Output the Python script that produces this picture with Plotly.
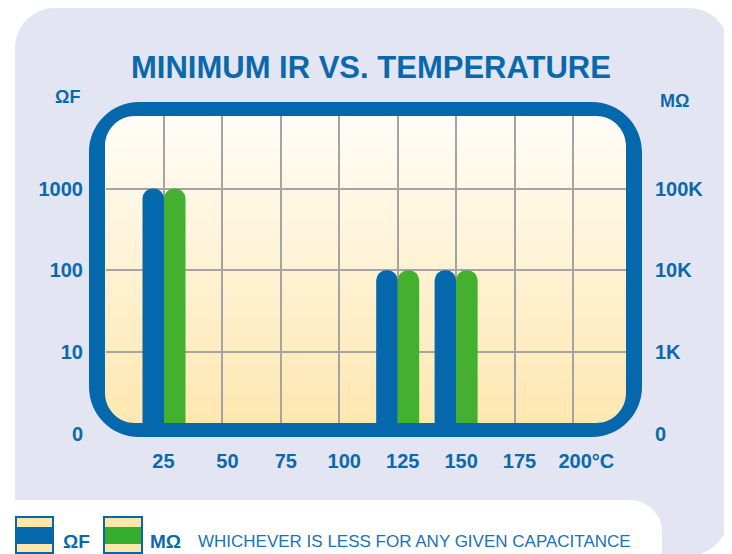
import plotly.graph_objects as go

# ---------------- data ----------------
temps = [25, 125, 150]
ohm_farad = [1000, 100, 100]          # ΩF series (left axis)
megohm = [100000, 10000, 10000]       # MΩ series (right axis)
x_ticks = [25, 50, 75, 100, 125, 150, 175, 200]
x_tick_labels = ["25\u00a0\u00a0", "50", "75", "100", "125", "150", "175", "\u00a0\u00a0\u00a0200°C"]
grid_vals = [10, 100, 1000]
left_tick_vals = [1, 10, 100, 1000]
left_tick_labels = ["0", "10", "100", "1000"]
right_tick_vals = [100, 1000, 10000, 100000]
right_tick_labels = ["0", "1K", "10K", "100K"]

# ---------------- style ----------------
BLUE = "#0568ad"
GREEN = "#43b02f"
LAV = "#e3e5f2"
TXT = "#0a69ad"
GRID = "#a4a4a4"
FONT = "Liberation Sans"

OFF = 8                      # page body margin
W, H = 732 - OFF, 554 - OFF  # figure size
PL, PR, PT, PB = 106, 626, 116, 437   # plot area in page pixels


def X(px):
    return (px - PL) / (PR - PL)


def Y(py):
    return (PB - py) / (PB - PT)


def pt(px, py):
    return f"{X(px):.5f},{Y(py):.5f}"


def rrect(x0, y0, x1, y1, radii, reverse=False):
    tl, tr, br, bl = radii
    c = 0.5523
    if not reverse:
        s = f"M{pt(x0 + tl, y0)} L{pt(x1 - tr, y0)} "
        s += f"C{pt(x1 - tr + c * tr, y0)} {pt(x1, y0 + tr - c * tr)} {pt(x1, y0 + tr)} "
        s += f"L{pt(x1, y1 - br)} "
        s += f"C{pt(x1, y1 - br + c * br)} {pt(x1 - br + c * br, y1)} {pt(x1 - br, y1)} "
        s += f"L{pt(x0 + bl, y1)} "
        s += f"C{pt(x0 + bl - c * bl, y1)} {pt(x0, y1 - bl + c * bl)} {pt(x0, y1 - bl)} "
        s += f"L{pt(x0, y0 + tl)} "
        s += f"C{pt(x0, y0 + tl - c * tl)} {pt(x0 + tl - c * tl, y0)} {pt(x0 + tl, y0)} Z"
    else:
        s = f"M{pt(x0 + tl, y0)} "
        s += f"C{pt(x0 + tl - c * tl, y0)} {pt(x0, y0 + tl - c * tl)} {pt(x0, y0 + tl)} "
        s += f"L{pt(x0, y1 - bl)} "
        s += f"C{pt(x0, y1 - bl + c * bl)} {pt(x0 + bl - c * bl, y1)} {pt(x0 + bl, y1)} "
        s += f"L{pt(x1 - br, y1)} "
        s += f"C{pt(x1 - br + c * br, y1)} {pt(x1, y1 - br + c * br)} {pt(x1, y1 - br)} "
        s += f"L{pt(x1, y0 + tr)} "
        s += f"C{pt(x1, y0 + tr - c * tr)} {pt(x1 - tr + c * tr, y0)} {pt(x1 - tr, y0)} Z"
    return s


shapes = []
# lavender panel
shapes.append(dict(type="path", xref="paper", yref="paper", layer="below",
                   path=rrect(15, 8, 729, 556, (40, 40, 42, 0)),
                   fillcolor=LAV, line=dict(width=0)))
# white cut-out at bottom
shapes.append(dict(type="path", xref="paper", yref="paper", layer="below",
                   path=rrect(-10, 500, 662, 600, (0, 32, 0, 0)),
                   fillcolor="white", line=dict(width=0)))

# gradient inside frame
ix0, iy0, ix1, iy1 = 105, 116, 626, 423
top_c = (255, 253, 247)
bot_c = (254, 231, 176)
n = 64
step = (iy1 - iy0) / n
for i in range(n):
    t = (i + 0.5) / n
    col = tuple(round(top_c[k] + (bot_c[k] - top_c[k]) * t) for k in range(3))
    shapes.append(dict(type="rect", xref="paper", yref="paper", layer="below",
                       x0=X(ix0), x1=X(ix1), y0=Y(iy0 + i * step - 0.3), y1=Y(iy0 + (i + 1) * step + 0.3),
                       fillcolor=f"rgb{col}", line=dict(width=0)))

# blue rounded frame
frame_path = rrect(89, 102, 642, 437, (50, 50, 50, 50)) + " " + \
    rrect(ix0, iy0, ix1, iy1, (30, 30, 30, 30), reverse=True)
shapes.append(dict(type="path", xref="paper", yref="paper", layer="above",
                   path=frame_path, fillcolor=BLUE, fillrule="evenodd", line=dict(width=0)))

# legend icons
for (lx0, lx1, band) in [(15, 54, BLUE), (103, 143, "#35ae2e")]:
    shapes.append(dict(type="rect", xref="paper", yref="paper", layer="above",
                       x0=X(lx0 + 1), x1=X(lx1 - 1), y0=Y(517), y1=Y(553),
                       fillcolor="#fde6ac", line=dict(color=BLUE, width=2)))
    shapes.append(dict(type="rect", xref="paper", yref="paper", layer="above",
                       x0=X(lx0 + 2), x1=X(lx1 - 2), y0=Y(527), y1=Y(544),
                       fillcolor=band, line=dict(width=0)))

fig = go.Figure()
bar_w = 9.2
fig.add_trace(go.Bar(x=temps, y=ohm_farad, name="ΩF", marker_color=BLUE,
                     marker_line_width=0, width=bar_w, offset=-bar_w, yaxis="y"))
fig.add_trace(go.Bar(x=temps, y=megohm, name="MΩ", marker_color=GREEN,
                     marker_line_width=0, width=bar_w, offset=0, yaxis="y2"))

tick_font = dict(family=FONT, size=20, color=TXT, weight="bold")

ylo, yhi = -0.04, 3.887
fig.update_layout(
    width=W, height=H, autosize=False,
    margin=dict(l=PL - OFF, r=W - (PR - OFF), t=PT - OFF, b=H - (PB - OFF), pad=0),
    paper_bgcolor="white", plot_bgcolor="rgba(0,0,0,0)",
    showlegend=False, barmode="overlay", barcornerradius="50%",
    shapes=shapes,
    xaxis=dict(range=[0.18, 222.7], tickvals=x_ticks, ticktext=x_tick_labels,
               showgrid=True, gridcolor=GRID, gridwidth=1.6, zeroline=False,
               showline=False, ticks="", tickfont=tick_font, ticklabelstandoff=10,
               ticklabelshift=5),
    yaxis=dict(type="log", range=[ylo, yhi], tickvals=grid_vals, showticklabels=False,
               showgrid=True, gridcolor=GRID, gridwidth=1.6, zeroline=False,
               showline=False, ticks=""),
    yaxis3=dict(type="log", range=[ylo, yhi], overlaying="y", side="left",
                tickvals=left_tick_vals, ticktext=left_tick_labels,
                showgrid=False, zeroline=False, showline=False, ticks="",
                tickfont=tick_font, ticklabelstandoff=22),
    yaxis2=dict(type="log", range=[ylo + 2, yhi + 2], overlaying="y", side="right",
                tickvals=right_tick_vals, ticktext=right_tick_labels,
                showgrid=False, zeroline=False, showline=False, ticks="",
                tickfont=tick_font, ticklabelstandoff=28),
)
# invisible carrier so the left label axis is drawn
fig.add_trace(go.Scatter(x=[None], y=[None], yaxis="y3", showlegend=False, hoverinfo="skip"))

ann = []
ann.append(dict(text="MINIMUM IR VS. TEMPERATURE", x=X(370.5), y=Y(68), xref="paper", yref="paper",
                showarrow=False, xanchor="center", yanchor="middle",
                font=dict(family=FONT, size=31, color=TXT, weight="bold")))
ann.append(dict(text="ΩF", x=X(53), y=Y(97), xref="paper", yref="paper", showarrow=False,
                xanchor="left", yanchor="middle",
                font=dict(family=FONT, size=18, color=TXT, weight="bold")))
ann.append(dict(text="MΩ", x=X(658), y=Y(101), xref="paper", yref="paper", showarrow=False,
                xanchor="left", yanchor="middle",
                font=dict(family=FONT, size=18, color=TXT, weight="bold")))
ann.append(dict(text="ΩF", x=X(61), y=Y(541), xref="paper", yref="paper", showarrow=False,
                xanchor="left", yanchor="middle",
                font=dict(family=FONT, size=19, color=TXT, weight="bold")))
ann.append(dict(text="MΩ", x=X(148), y=Y(541), xref="paper", yref="paper", showarrow=False,
                xanchor="left", yanchor="middle",
                font=dict(family=FONT, size=19, color=TXT, weight="bold")))
ann.append(dict(text="WHICHEVER IS LESS FOR ANY GIVEN CAPACITANCE", x=X(196), y=Y(541),
                xref="paper", yref="paper", showarrow=False, xanchor="left", yanchor="middle",
                font=dict(family=FONT, size=17, color="#1a72b5")))
fig.update_layout(annotations=ann)

fig.write_html("out.html")
